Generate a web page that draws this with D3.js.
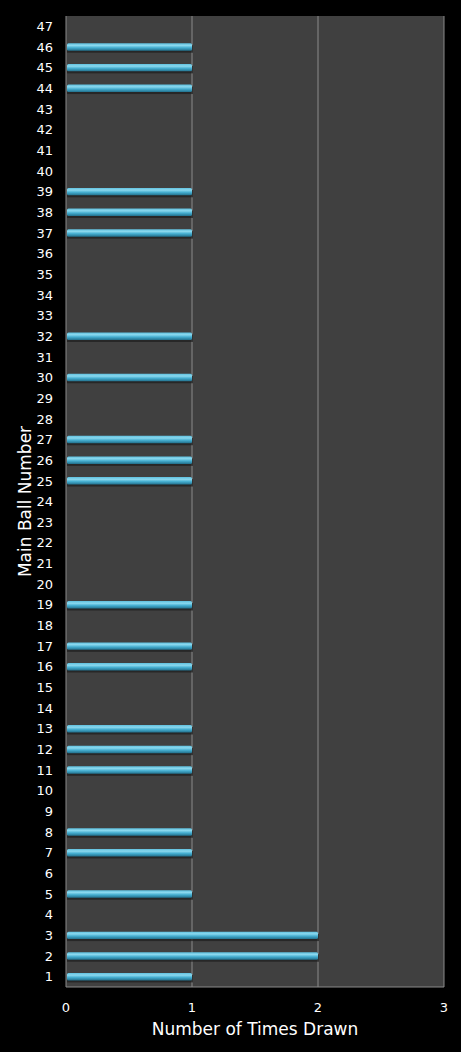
<!DOCTYPE html>
<html><head><meta charset="utf-8">
<script src="https://cdn.jsdelivr.net/npm/d3@7"></script>
<style>html,body{margin:0;padding:0;background:#000;}svg{display:block;}</style>
</head><body>
<script>
const balls = d3.range(1, 48);
const drawn = [1,2,2,0,1,0,1,1,0,0,1,1,1,0,0,1,1,0,1,0,0,0,0,0,1,1,1,0,0,1,0,1,0,0,0,0,1,1,1,0,0,0,0,1,1,1,0];
const xTicks = [0,1,2,3];

const W = 461, H = 1052;
const m = {left: 66, right: 17, top: 16, bottom: 65};
const svg = d3.select("body").append("svg").attr("width", W).attr("height", H);
svg.append("rect").attr("width", W).attr("height", H).attr("fill", "#000");

const x = d3.scaleLinear().domain([0,3]).range([m.left, W - m.right]);
const y = d3.scaleBand().domain(balls.slice().reverse()).range([m.top, H - m.bottom]).paddingInner(0.64).paddingOuter(0.32);

const defs = svg.append("defs");
const g = defs.append("linearGradient").attr("id","bar").attr("x1",0).attr("x2",0).attr("y1",0).attr("y2",1);
g.append("stop").attr("offset","0%").attr("stop-color","#5fc0de");
g.append("stop").attr("offset","30%").attr("stop-color","#8ad8ee");
g.append("stop").attr("offset","60%").attr("stop-color","#45aed0");
g.append("stop").attr("offset","100%").attr("stop-color","#22708c");

svg.append("rect").attr("x", x(0)).attr("y", m.top).attr("width", x(3) - x(0)).attr("height", H - m.bottom - m.top).attr("fill", "#404040");

svg.append("g").selectAll("line").data(xTicks.slice(1)).join("line")
  .attr("x1", d => x(d)).attr("x2", d => x(d)).attr("y1", m.top).attr("y2", H - m.bottom)
  .attr("stroke", "#8a8a8a").attr("stroke-width", 1);

const data = balls.map((b, i) => ({b, v: drawn[i]})).filter(d => d.v > 0);
svg.append("g").selectAll("rect").data(data).join("rect")
  .attr("x", x(0) + 1).attr("y", d => y(d.b) + 2).attr("width", d => x(d.v) - x(0)).attr("height", y.bandwidth())
  .attr("fill", "#1c1c1c").attr("opacity", 0.7);
svg.append("g").selectAll("rect").data(data).join("rect")
  .attr("x", x(0) + 1).attr("y", d => y(d.b)).attr("width", d => x(d.v) - x(0) - 1).attr("height", y.bandwidth())
  .attr("rx", 1.5).attr("fill", "url(#bar)");

svg.append("line").attr("x1", x(0)).attr("x2", x(0)).attr("y1", m.top).attr("y2", H - m.bottom).attr("stroke", "#8a8a8a");
svg.append("line").attr("x1", x(0)).attr("x2", x(3)).attr("y1", H - m.bottom).attr("y2", H - m.bottom).attr("stroke", "#8a8a8a");

const font = "Verdana, 'DejaVu Sans', sans-serif";
svg.append("g").selectAll("text").data(balls).join("text")
  .attr("x", 53).attr("y", d => y(d) + y.bandwidth()/2).attr("dy", "0.36em")
  .attr("text-anchor", "end").attr("fill", "#fff").attr("font-family", font).attr("font-size", 13)
  .text(d => d);

svg.append("g").selectAll("text").data(xTicks).join("text")
  .attr("x", d => x(d)).attr("y", 1012).attr("text-anchor", "middle")
  .attr("fill", "#fff").attr("font-family", font).attr("font-size", 13).text(d => d);

svg.append("text").attr("x", (x(0) + x(3)) / 2).attr("y", 1035).attr("text-anchor", "middle")
  .attr("fill", "#fff").attr("font-family", font).attr("font-size", 17).text("Number of Times Drawn");

svg.append("text").attr("transform", `translate(31, ${(m.top + H - m.bottom)/2}) rotate(-90)`)
  .attr("text-anchor", "middle").attr("fill", "#fff").attr("font-family", font).attr("font-size", 17)
  .text("Main Ball Number");
</script>
</body></html>
